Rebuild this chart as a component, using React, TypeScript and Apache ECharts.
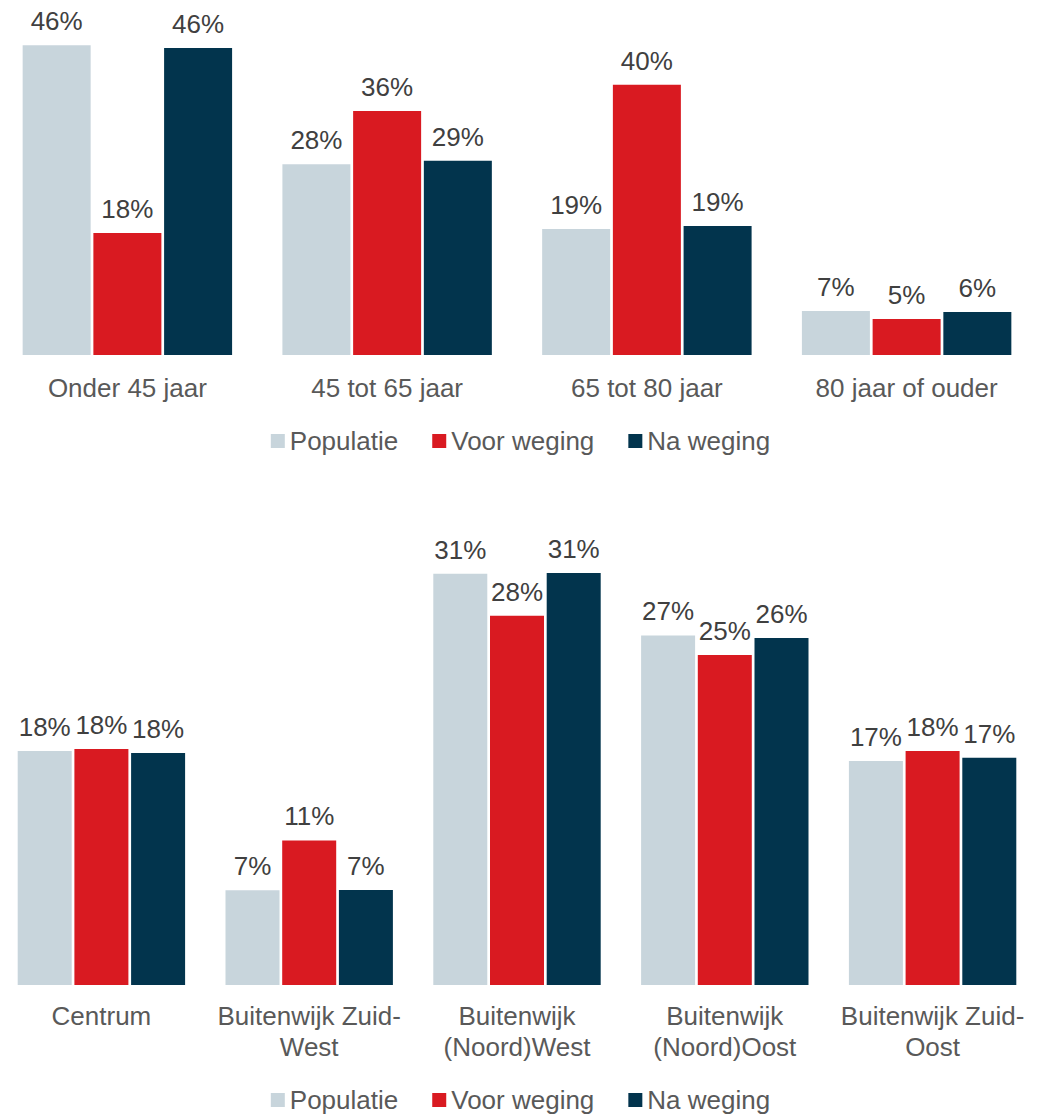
import React, { useEffect, useRef } from "react";
import * as echarts from "echarts";

const ageCategories = ["Onder 45 jaar", "45 tot 65 jaar", "65 tot 80 jaar", "80 jaar of ouder"];
const agePopulatie = [46.1, 28.4, 18.75, 6.55];
const ageVoor = [18.15, 36.3, 40.2, 5.36];
const ageNa = [45.7, 28.9, 19.2, 6.4];

const wijkCategories = [
  "Centrum",
  "Buitenwijk Zuid-\nWest",
  "Buitenwijk\n(Noord)West",
  "Buitenwijk\n(Noord)Oost",
  "Buitenwijk Zuid-\nOost",
];
const wijkPopulatie = [17.8, 7.2, 31.3, 26.6, 17.05];
const wijkVoor = [17.96, 11.0, 28.1, 25.1, 17.8];
const wijkNa = [17.66, 7.23, 31.35, 26.4, 17.3];

const seriesNames = ["Populatie", "Voor weging", "Na weging"];
const colors = ["#C8D5DC", "#D91A21", "#02344D"];

const FONT = "Liberation Sans, Arial, sans-serif";

export default function App() {
  const ref = useRef<HTMLDivElement>(null);
  useEffect(() => {
    if (!ref.current) return;
    document.body.style.overflow = "hidden";
    const chart = echarts.init(ref.current, undefined, { renderer: "svg" });
    const label = {
      show: true,
      position: "top",
      distance: 11,
      fontSize: 26,
      fontFamily: FONT,
      color: "#404040",
      formatter: (p: any) => Math.round(p.value) + "%",
    };
    const mk = (name: string, data: number[], idx: number, color: string, bw: number, gap: string) => ({
      name,
      type: "bar",
      xAxisIndex: idx,
      yAxisIndex: idx,
      data,
      barWidth: bw,
      barGap: gap,
      itemStyle: { color },
      label,
    });
    const axisLabel = (margin: number) => ({
      fontSize: 26,
      fontFamily: FONT,
      color: "#595959",
      lineHeight: 31,
      margin,
      interval: 0,
    });
    const legendBase = {
      left: "center",
      itemWidth: 14,
      itemHeight: 14,
      itemGap: 34,
      icon: "rect",
      textStyle: { fontSize: 26, fontFamily: FONT, color: "#595959" },
      data: seriesNames,
      selectedMode: false,
    };
    chart.setOption({
      animation: false,
      color: colors,
      legend: [
        { ...legendBase, top: 423 },
        { ...legendBase, top: 1082 },
      ],
      grid: [
        { left: 7.5, width: 1039, top: 19, height: 336 },
        { left: 7.5, width: 1039, top: 525, height: 460 },
      ],
      xAxis: [
        {
          type: "category",
          gridIndex: 0,
          data: ageCategories,
          axisLine: { show: false },
          axisTick: { show: false },
          axisLabel: axisLabel(17),
        },
        {
          type: "category",
          gridIndex: 1,
          data: wijkCategories,
          axisLine: { show: false },
          axisTick: { show: false },
          axisLabel: axisLabel(15),
        },
      ],
      yAxis: [
        { type: "value", gridIndex: 0, min: 0, max: 50, show: false, splitLine: { show: false } },
        { type: "value", gridIndex: 1, min: 0, max: 35, show: false, splitLine: { show: false } },
      ],
      series: [
        mk(seriesNames[0], agePopulatie, 0, colors[0], 68, "4%"),
        mk(seriesNames[1], ageVoor, 0, colors[1], 68, "4%"),
        mk(seriesNames[2], ageNa, 0, colors[2], 68, "4%"),
        mk(seriesNames[0], wijkPopulatie, 1, colors[0], 54, "5%"),
        mk(seriesNames[1], wijkVoor, 1, colors[1], 54, "5%"),
        mk(seriesNames[2], wijkNa, 1, colors[2], 54, "5%"),
      ],
    });
    return () => chart.dispose();
  }, []);
  return (
    <div
      ref={ref}
      style={{ position: "absolute", left: -10, top: 0, width: 1061, height: 1114, background: "#fff" }}
    />
  );
}
